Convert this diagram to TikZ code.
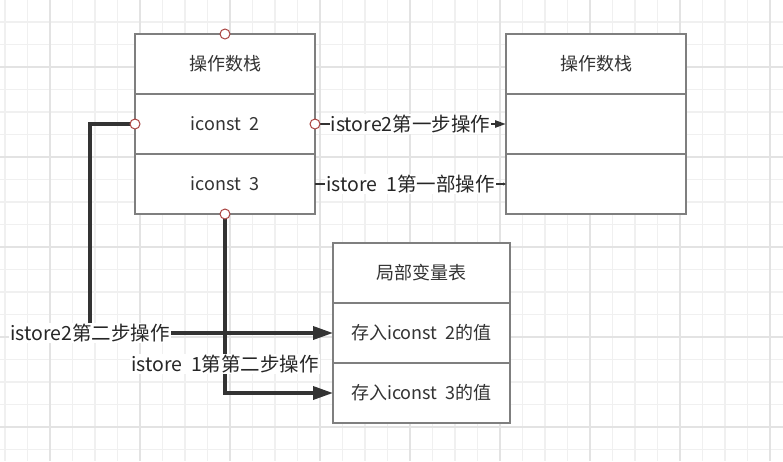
\documentclass[tikz,border=0pt]{standalone}
\usepackage{fontspec}
\setmainfont{Noto Sans CJK SC}
\usetikzlibrary{positioning,arrows.meta}
\definecolor{boxline}{HTML}{7F7F7F}
\definecolor{boxtext}{HTML}{333333}
\definecolor{wirecol}{HTML}{333333}
\definecolor{portred}{HTML}{A94442}
\definecolor{gridminor}{HTML}{F0F0F0}
\definecolor{gridmajor}{HTML}{E3E3E3}

\begin{document}
\begin{tikzpicture}[x=1pt, y=-1pt,
      cell/.style={draw=boxline, line width=2pt, fill=white, outer sep=0pt,
                   minimum width=180pt, minimum height=60pt, inner sep=0pt,
                   font=\fontsize{18}{21}\selectfont, text=boxtext},
      lvcell/.style={cell, minimum width=177pt},
      lbl/.style={fill=white, inner sep=1pt, text=black!85,
                  font=\fontsize{19.5}{23}\selectfont},
      port/.style={circle, draw=portred, fill=white, line width=1pt,
                   minimum size=10pt, inner sep=0pt},
      wire/.style={draw=wirecol, line width=2.5pt},
      bigwire/.style={draw=wirecol, line width=3.5pt,
                      -{Triangle[length=20pt, width=13pt]}},
      node distance=0pt]
    \useasboundingbox (0,0) rectangle (783,461);
    % background grid
    \foreach \gx in {5,27.5,...,783} \draw[gridminor, line width=1.2pt] (\gx,0) -- (\gx,461);
    \foreach \gy in {-0.5,22,...,461} \draw[gridminor, line width=1.2pt] (0,\gy) -- (783,\gy);
    \foreach \gx in {50,140,...,770} \draw[gridmajor, line width=1.2pt] (\gx,0) -- (\gx,461);
    \foreach \gy in {67,157,...,427} \draw[gridmajor, line width=1.2pt] (0,\gy) -- (783,\gy);

    \node[cell] (stkA) at (225,64) {操作数栈};
    \node[cell, below=of stkA] (stkA2) {iconst~~2};
    \node[cell, below=of stkA2] (stkA3) {iconst~~3};

    \node[cell, right=191pt of stkA] (stkB) {操作数栈};
    \node[cell, below=of stkB] (stkB2) {};
    \node[cell, below=of stkB2] (stkB3) {};

    \node[lvcell, below right=29pt and 18pt of stkA3.south east, anchor=north west] (lvt) {局部变量表};
    \node[lvcell, below=of lvt] (lvt2) {存入iconst~~2的值};
    \node[lvcell, below=of lvt2] (lvt3) {存入iconst~~3的值};

    \draw[wire, -{Triangle[length=11pt, width=7pt]}] (stkA2.east) --
      node[lbl] {istore2第一步操作} (stkB2.west);
    \draw[wire, -{Triangle[length=3pt, width=3pt]}] (stkA3.east) --
      node[lbl] {istore~~1第一部操作} (stkB3.west);
    \draw[bigwire] (stkA2.west) -- ++(-45,0) |-
      node[lbl, pos=0.5] {istore2第二步操作} (lvt2.west);
    \draw[bigwire] (stkA3.south) |-
      node[lbl, pos=0.42] {istore~~1第第二步操作} (lvt3.west);

    \node[port] (pTop) at (stkA.north) {};
    \node[port] (pLeft) at (stkA2.west) {};
    \node[port] (pRight) at (stkA2.east) {};
    \node[port] (pBot) at (stkA3.south) {};
  \end{tikzpicture}
\end{document}
